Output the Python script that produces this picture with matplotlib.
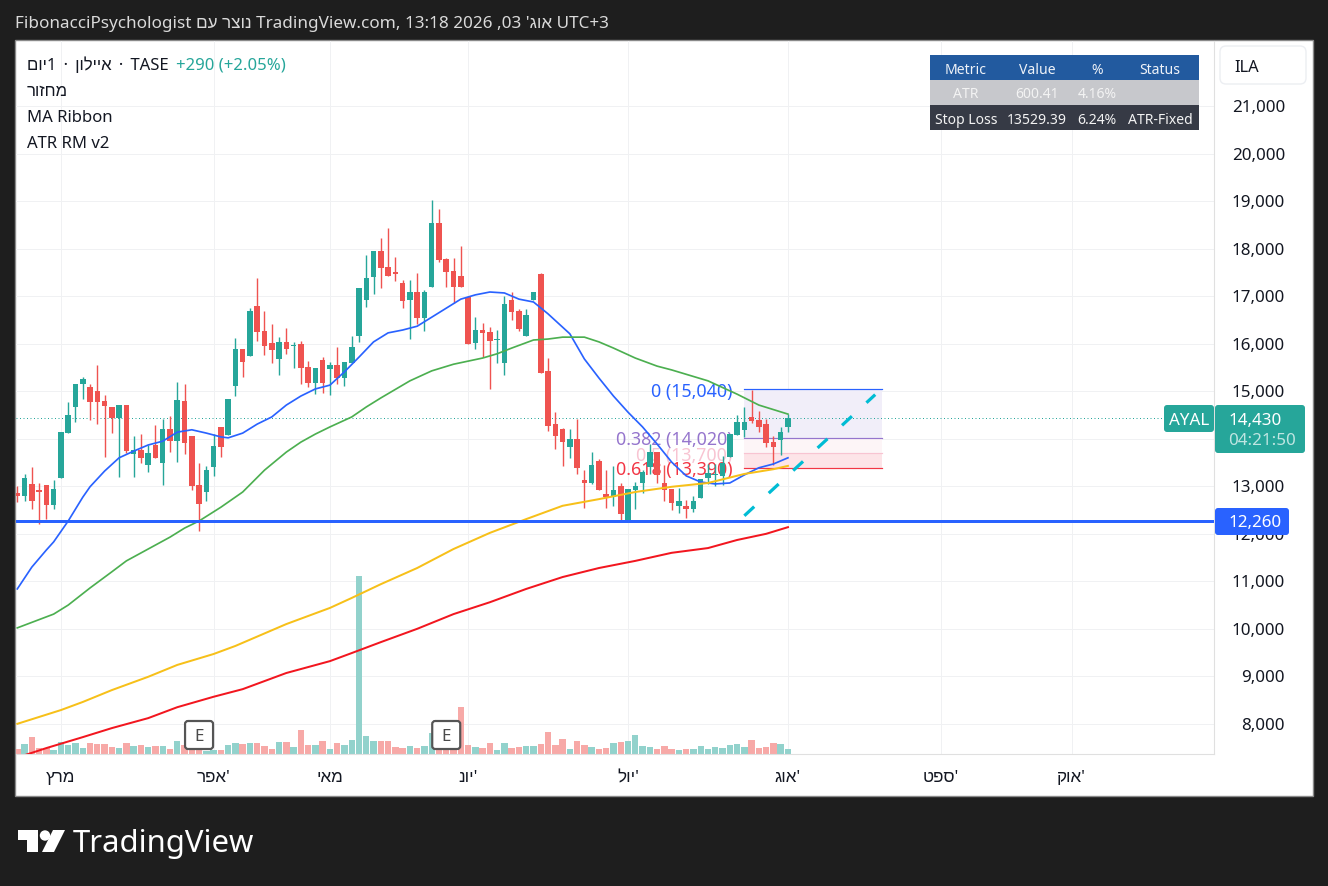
import re
import numpy as np
import matplotlib
matplotlib.use("Agg")
import matplotlib.pyplot as plt
from matplotlib.patches import Rectangle, FancyBboxPatch, Polygon, Circle
from matplotlib.transforms import ScaledTranslation

plt.rcParams['font.family'] = ['Noto Sans', 'Liberation Sans', 'DejaVu Sans']

# daily candles, oldest first
opens = [12860, 12800, 13050, 12900, 13030, 12610, 13180, 14130, 14680, 15150, 15090, 15010, 14800, 14670, 14440, 14710,
         13680, 13770, 13450, 13870, 13490, 14210, 13950, 14800, 14060, 13030, 12880, 13410, 14250, 14080, 15110, 15890,
         15740, 16800, 16270, 16020, 15680, 16040, 15950, 16000, 15510, 15180, 15660, 15470, 15550, 15280, 15600, 16170,
         16920, 17410, 17960, 17620, 17510, 17280, 16920, 17090, 16550, 17200, 18550, 17790, 17530, 17430, 16990, 16020,
         16290, 16250, 16070, 15600, 16920, 16690, 16170, 16920, 17470, 15430, 14310, 14210, 13830, 14000, 13130, 13070,
         13530, 12840, 12780, 13010, 12280, 12920, 13070, 13410, 13720, 13070, 12940, 12590, 12590, 12520, 12750, 13180,
         13240, 13220, 13620, 14080, 14190, 14460, 14390, 14310, 13930, 13980, 14240]
highs = [13000, 13260, 13400, 13080, 13030, 13130, 14140, 14770, 15150, 15300, 15150, 15550, 14920, 14680, 14710, 14710,
         14060, 14100, 13860, 14290, 14420, 14480, 15200, 15160, 14060, 13490, 13430, 14100, 14250, 14840, 16120, 15890,
         16760, 17390, 16690, 16420, 16140, 16330, 16040, 16060, 15640, 15490, 15720, 15620, 15930, 15620, 16170, 17180,
         17870, 17960, 18230, 18440, 17830, 17350, 17350, 17490, 17130, 19030, 18840, 17810, 17810, 18060, 17010, 16570,
         16440, 16360, 16290, 17010, 17090, 16730, 16730, 17090, 17490, 15700, 14570, 14230, 14210, 14420, 13340, 13720,
         13580, 13340, 13430, 13080, 12940, 13090, 13340, 13890, 13720, 13450, 12940, 12960, 12710, 12800, 13150, 13470,
         13470, 13630, 14100, 14500, 14670, 15020, 14590, 14420, 14060, 14250, 14520]
lows = [12680, 12700, 12520, 12210, 12310, 12520, 13180, 14130, 14360, 14840, 14400, 14310, 13620, 14120, 13200, 13700,
        13200, 13490, 13300, 13600, 13030, 13720, 13510, 13680, 12920, 12060, 12690, 13220, 13620, 14080, 14900, 15300,
        15740, 16060, 15770, 15600, 15340, 15790, 15490, 15160, 15090, 14940, 14970, 14920, 15160, 15110, 15600, 16040,
        16780, 17050, 17180, 17430, 17320, 16760, 16100, 16420, 16270, 17200, 17720, 17200, 16860, 17200, 16000, 15890,
        15720, 15050, 15600, 15340, 16500, 16270, 16170, 16920, 15390, 14170, 13790, 13430, 13600, 13260, 12540, 13050,
        12920, 12540, 12590, 12240, 12280, 12520, 12860, 13260, 13080, 12700, 12500, 12440, 12330, 12460, 12750, 13050,
        13000, 13030, 13620, 14080, 14040, 14330, 14140, 13830, 13450, 13660, 14140]
closes = [12800, 13180, 12700, 12890, 12610, 12940, 14140, 14500, 15150, 15260, 14780, 14780, 14690, 14440, 14710, 13740,
          13770, 13600, 13700, 13600, 14210, 13950, 14820, 13910, 13010, 12630, 13340, 13850, 13830, 14840, 15890, 15620,
          16690, 16250, 15960, 15870, 16040, 15890, 15960, 15490, 15180, 15490, 15180, 15550, 15280, 15620, 15930, 17180,
          17390, 17960, 17600, 17430, 17470, 16900, 17090, 16550, 17090, 18550, 17770, 17510, 17200, 17200, 16000, 16290,
          16230, 16060, 16080, 16840, 16670, 16310, 16610, 17090, 15390, 14270, 14060, 13930, 14000, 13390, 13070, 13450,
          12920, 12780, 12920, 12420, 12940, 13010, 13300, 13720, 13240, 12930, 12650, 12690, 12520, 12690, 13150, 13280,
          13250, 13490, 14100, 14350, 14350, 14370, 14240, 13910, 13830, 14140, 14430]
# volume in thousands of shares
volumes = [5, 10, 17, 6, 6, 4, 12, 9, 11, 6, 11, 10, 10, 7, 6, 11, 8, 9, 7, 8, 8, 5, 13, 9, 5, 5, 3.5, 4, 4, 9, 11, 10,
           11, 11, 8, 5, 12, 12, 7, 24, 9, 9, 13, 5, 11, 9, 14, 178, 18, 13, 13, 13, 7, 6, 8, 6, 8, 21, 5, 5, 5, 47, 9,
           7, 6, 11, 4, 11, 6, 7, 8, 8, 10, 22, 9, 15, 5, 13, 9, 7, 5, 6, 11, 12, 13, 19, 8, 7, 5, 8, 5, 4, 5, 5, 8, 5,
           7, 6, 9, 10, 7, 14, 6, 7, 11, 10, 5]

# moving averages, read at selected bars
blue_bars = [0, 2, 4, 5, 7, 9, 10, 12, 14, 16, 18, 20, 22, 24, 26, 28, 29, 31, 33, 35, 37, 39, 41, 43, 45, 47, 49, 51, 53,
             55, 57, 59, 61, 63, 65, 67, 69, 71, 73, 75, 76, 78, 80, 82, 84, 86, 88, 90, 92, 94, 96, 98, 100, 102, 104, 106]
blue_ma = [10840, 11300, 11660, 11830, 12270, 12770, 12990, 13320, 13600, 13740, 13870, 13950, 14140, 14190, 14120, 14040,
           14020, 14120, 14310, 14460, 14710, 14900, 15050, 15130, 15410, 15720, 16040, 16230, 16290, 16370, 16560, 16750,
           16940, 17030, 17090, 17070, 16940, 16880, 16630, 16350, 16210, 15680, 15280, 14900, 14560, 14250, 13890, 13510,
           13220, 13090, 13050, 13070, 13240, 13390, 13470, 13600]
green_bars = [0, 5, 7, 10, 13, 15, 18, 21, 23, 25, 28, 31, 34, 37, 39, 41, 43, 46, 48, 50, 52, 54, 57, 60, 64, 66, 68, 71,
              73, 75, 78, 80, 82, 85, 88, 90, 95, 99, 102, 106]
green_ma = [10020, 10310, 10500, 10860, 11200, 11430, 11680, 11930, 12120, 12270, 12560, 12880, 13340, 13720, 13930, 14100,
            14250, 14460, 14670, 14860, 15040, 15220, 15430, 15570, 15700, 15790, 15910, 16080, 16100, 16140, 16140, 16040,
            15910, 15700, 15530, 15450, 15220, 14940, 14710, 14520]
yellow_bars = [0, 6, 9, 13, 18, 22, 27, 30, 37, 43, 46, 50, 55, 60, 65, 70, 75, 80, 85, 90, 95, 100, 104, 106]
yellow_ma = [8000, 8290, 8460, 8710, 8990, 9240, 9470, 9640, 10100, 10440, 10650, 10940, 11280, 11680, 12020, 12310, 12590,
             12730, 12880, 12990, 13070, 13260, 13360, 13430]
red_bars = [0, 1, 4, 9, 13, 18, 22, 27, 31, 37, 43, 46, 50, 55, 60, 65, 70, 75, 80, 85, 90, 95, 99, 103, 106]
red_ma = [7300, 7340, 7490, 7720, 7910, 8120, 8350, 8570, 8730, 9070, 9320, 9490, 9720, 10000, 10310, 10560, 10840, 11090,
          11280, 11430, 11600, 11700, 11870, 12000, 12140]

# fib retracement and trend line
fib_levels = [15040, 14020, 13700, 13390]
fib_names = ["0 (15,040)", "0.382 (14,020)", "0.5 (13,700)", "0.618 (13,390)"]
fib_start, fib_end = 100, 119
trend_bars = [100, 118]
trend_prices = [12380, 14930]

support = 12260
last_price = 14430
earnings_bars = [25, 59]

price_ticks = [8000, 9000, 10000, 11000, 12000, 13000, 14000, 15000, 16000, 17000, 18000, 19000, 20000, 21000]
month_ticks = [6, 27, 43, 62, 84, 106, 127, 145]
month_labels = ["מרץ", "אפר'", "מאי", "יונ'", "יול'", "אוג'", "ספט'", "אוק'"]

table_rows = [["Metric", "Value", "%", "Status"],
              ["ATR", "600.41", "4.16%", ""],
              ["Stop Loss", "13529.39", "6.24%", "ATR-Fixed"]]

UP = "#26a69a"
DOWN = "#ef5350"
INK = "#131722"
W, H = 1328, 887


def vis(text):
    # matplotlib has no bidi, so put the Hebrew runs in visual order
    return re.sub(r"[א-ת](?:[א-ת ]*[א-ת])?", lambda m: m.group(0)[::-1], text)


def pt(px):
    return px * 0.72


fig = plt.figure(figsize=(W / 100, H / 100), dpi=100, facecolor="#1e1e1e")
fig.add_artist(Rectangle((15 / W, 1 - 796.5 / H), 1298 / W, 756 / H, transform=fig.transFigure,
                         fc="white", ec="#8a8a8a", lw=1, zorder=-1))

ax = fig.add_axes([16 / W, 1 - 755 / H, 1198 / W, 713 / H])
ax.patch.set_alpha(0)
y_min, y_max = 7365, 22374
ax.set_xlim(-0.18, 164.6)
ax.set_ylim(y_min, y_max)
for name, spine in ax.spines.items():
    spine.set_visible(name in ("right", "bottom"))
    spine.set_color("#e0e0e0")
ax.set_axisbelow(True)
ax.grid(True, color="#f0f1f3", lw=pt(1))
ax.yaxis.tick_right()
ax.set_yticks(price_ticks)
# the 14,000 label sits behind the last-price tag, so it stays blank
ax.set_yticklabels(["" if v == 14000 else f"{v:,}" for v in price_ticks], fontsize=pt(17), color=INK, ha="right")
ax.tick_params(axis="y", length=0, pad=pt(71))
nudge = ScaledTranslation(0, 1 / 100, fig.dpi_scale_trans)
for lbl in ax.get_yticklabels():
    lbl.set_transform(lbl.get_transform() + nudge)
ax.set_xticks(month_ticks)
ax.set_xticklabels([vis(m) for m in month_labels], fontsize=pt(17), color=INK)
ax.tick_params(axis="x", length=0, pad=pt(15))

x = np.arange(len(opens))
o, h, l, c = map(np.array, (opens, highs, lows, closes))
rising = c >= o
colors = np.where(rising, UP, DOWN)

# volume overlay sits on the bottom of the pane, 21 price units per thousand shares
vol_colors = np.where(rising, "#92d2cc", "#f7a9a7")
ax.bar(x, np.array(volumes) * 21.05, bottom=y_min, width=0.88, color=vol_colors, zorder=1.2)

# fib zones
fib_x = [fib_start, fib_end]
ax.fill_between(fib_x, fib_levels[1], fib_levels[0], color="#f1eef9", lw=0, zorder=1)
ax.fill_between(fib_x, fib_levels[2], fib_levels[1], color="#fdf5f7", lw=0, zorder=1)
ax.fill_between(fib_x, fib_levels[3], fib_levels[2], color="#fde4e8", lw=0, zorder=1)
fib_colors = ["#2962ff", "#9575cd", "#f8c4d2", "#f23645"]
for level, name, col in zip(fib_levels, fib_names, fib_colors):
    ax.plot(fib_x, [level, level], color=col, lw=pt(1.2), zorder=1.5)
    ax.annotate(name, (fib_start, level), xytext=(pt(-12), pt(-1.5)), textcoords="offset points", color=col,
                fontsize=pt(17.8), ha="right", va="center", zorder=1.6)

# candles
ax.vlines(x, l, h, colors=colors, lw=pt(1.4), zorder=3)
ax.bar(x, np.maximum(np.abs(c - o), 25), bottom=np.minimum(o, c), width=0.76, color=colors, zorder=3.1)

ax.plot(blue_bars, blue_ma, color="#2962ff", lw=pt(1.7), zorder=4)
ax.plot(green_bars, green_ma, color="#4caf50", lw=pt(1.7), zorder=4)
ax.plot(yellow_bars, yellow_ma, color="#f7c019", lw=pt(2), zorder=4)
ax.plot(red_bars, red_ma, color="#f2161f", lw=pt(2), zorder=4)

ax.axhline(last_price, color=UP, lw=pt(1), ls=(0, (1, 2.5)), zorder=2)
ax.axhline(support, color="#2962ff", lw=pt(3), zorder=5)
ax.plot(trend_bars, trend_prices, color="#00bcd4", lw=pt(3.2), ls=(0, (4.2, 6.2)), zorder=5)

# everything below here is chart chrome, laid out in pixels
ov = fig.add_axes([0, 0, 1, 1])
ov.set_xlim(0, W)
ov.set_ylim(H, 0)
ov.axis("off")


def box(x0, y0, x1, y1, fc, ec="none", r=3, lw=0):
    ov.add_patch(FancyBboxPatch((x0 + r, y0 + r), x1 - x0 - 2 * r, y1 - y0 - 2 * r,
                                boxstyle=f"round,pad={r},rounding_size={r}", fc=fc, ec=ec, lw=lw))


ov.text(15, 23.5, vis("FibonacciPsychologist נוצר עם TradingView.com, 13:18 2026 ,03 'אוג UTC+3"),
        color="#dadada", fontsize=pt(17.1), va="center")

# legend
ov.text(27, 66, vis("יום1 \u2009·\u2009 איילון \u2009·\u2009 TASE"), color=INK, fontsize=pt(16.7), va="center")
ov.text(176, 66, "+290 (+2.05%)", color=UP, fontsize=pt(16.7), va="center")
for y, name in zip([92, 118, 144], ["מחזור", "MA Ribbon", "ATR RM v2"]):
    ov.text(27, y, vis(name), color=INK, fontsize=pt(16.7), va="center")

# stats table
row_y = [56, 81, 106, 131]
row_fc = ["#225a9f", "#c7c8cc", "#363a45"]
row_ink = ["#eef2f8", "#f3f3f3", "#f3f3f3"]
col_x = [966, 1037, 1097, 1160]
for i, row in enumerate(table_rows):
    ov.add_patch(Rectangle((930, row_y[i]), 269, 25, fc=row_fc[i], ec="none"))
    for cx, cell in zip(col_x, row):
        ov.text(cx, (row_y[i] + row_y[i + 1]) / 2 + 1.5, cell, color=row_ink[i], fontsize=pt(14),
                ha="center", va="center")

# currency button and price tags
box(1220, 47, 1306, 85, "white", ec="#eceef2", r=6, lw=1)
ov.text(1234, 68, "ILA", color=INK, fontsize=pt(16.5), va="center")
box(1164, 406, 1214, 433, UP)
ov.text(1189, 421.5, "AYAL", color="white", fontsize=pt(17), ha="center", va="center")
box(1215, 406, 1305, 454, UP)
ov.text(1228, 421, f"{last_price:,}", color="white", fontsize=pt(17), va="center")
ov.text(1228, 441, "04:21:50", color="#bfe5e1", fontsize=pt(17), va="center")
box(1215, 509, 1289, 536, "#2962ff")
ov.text(1228, 523.5, f"{support:,}", color="white", fontsize=pt(17), va="center")

# earnings badges
for bar in earnings_bars:
    cx = 17.3 + 7.27 * bar
    box(cx - 14, 722, cx + 14, 750, "white", ec="#555555", r=3, lw=pt(2.2))
    ov.text(cx, 737, "E", color="#4a4a4a", fontsize=pt(17), weight="bold", ha="center", va="center")

# TradingView mark
ov.add_patch(Polygon([(18, 831), (38, 831), (38, 853), (27, 853), (27, 841), (18, 841)], fc="white", ec="none"))
ov.add_patch(Circle((45, 836.5), 5.2, fc="white", ec="none"))
ov.add_patch(Polygon([(53, 831), (65, 831), (54, 853), (42, 853)], fc="white", ec="none"))
ov.text(73, 844, "TradingView", color="white", fontsize=pt(31), weight="bold", va="center")

fig.savefig("out.png", dpi=100, facecolor=fig.get_facecolor())
